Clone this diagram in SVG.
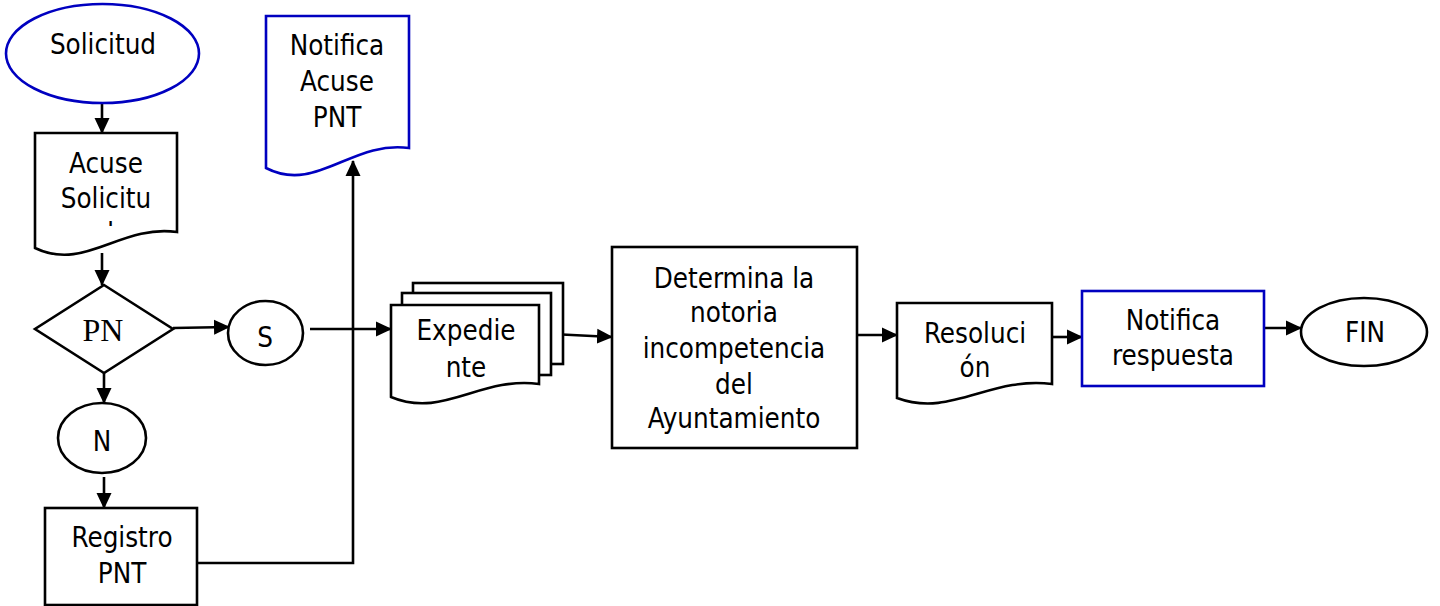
<svg xmlns="http://www.w3.org/2000/svg" width="1440" height="606" viewBox="0 0 1440 606">
<style>
.s{fill:#fff;stroke:#000;stroke-width:2.6}
.b{fill:#fff;stroke:#0000c0;stroke-width:2.6}
.t{font-family:"DejaVu Sans Condensed","DejaVu Sans",sans-serif;font-stretch:condensed;font-size:27.5px;fill:#000;text-anchor:middle}
.pn{font-family:"Liberation Serif","Times New Roman",serif;font-size:32px;fill:#000;text-anchor:middle}
.c{fill:none;stroke:#000;stroke-width:2.6}
</style>
<defs>
<marker id="ah" markerUnits="userSpaceOnUse" markerWidth="16" markerHeight="17" viewBox="0 0 16 17" refX="15" refY="8.5" orient="auto">
<path d="M0,1 L16,8.5 L0,16 Z" fill="#000"/>
</marker>
<clipPath id="cAcuse"><rect x="35" y="133" width="142" height="93"/></clipPath>
<clipPath id="cRes"><rect x="897" y="303" width="155" height="74"/></clipPath>
</defs>

<g id="connectors">
<line class="c" x1="102" y1="104" x2="102" y2="133" marker-end="url(#ah)"/>
<line class="c" x1="102" y1="253" x2="102" y2="285" marker-end="url(#ah)"/>
<line class="c" x1="173" y1="328" x2="229" y2="327" marker-end="url(#ah)"/>
<line class="c" x1="104" y1="373" x2="104" y2="403" marker-end="url(#ah)"/>
<line class="c" x1="104" y1="477" x2="104" y2="508" marker-end="url(#ah)"/>
<polyline class="c" points="197,563 353,563 353,161" marker-end="url(#ah)"/>
<line x1="194.5" y1="548" x2="194.5" y2="564" stroke="#000" stroke-width="3.5"/>
<line class="c" x1="310" y1="329" x2="391" y2="329" marker-end="url(#ah)"/>
<line class="c" x1="552" y1="334" x2="612" y2="337" marker-end="url(#ah)"/>
<line class="c" x1="853" y1="335" x2="897" y2="335" marker-end="url(#ah)"/>
<line class="c" x1="1052" y1="337" x2="1082" y2="337" marker-end="url(#ah)"/>
<line class="c" x1="1264" y1="328" x2="1301" y2="328" marker-end="url(#ah)"/>
</g>

<g id="solicitud">
<ellipse class="b" cx="102.5" cy="53.5" rx="96.5" ry="49.5"/>
<text class="t" x="103" y="54">Solicitud</text>
</g>

<g id="acuse-solicitud">
<path class="s" d="M35,133 H177 V232 C120,224 85,272 35,248 Z"/>
<text class="t" x="106" y="173">Acuse</text>
<text class="t" x="106" y="208">Solicitu</text>
<text class="t" x="106" y="243" clip-path="url(#cAcuse)">d</text>
</g>

<g id="pn">
<path class="s" d="M104,285 L173,329 L104,373 L35,329 Z"/>
<text class="pn" x="103" y="341">PN</text>
</g>

<g id="s">
<ellipse class="s" cx="265.5" cy="333" rx="37.5" ry="32"/>
<text class="t" x="265" y="347">S</text>
</g>

<g id="n">
<ellipse class="s" cx="102" cy="438" rx="44" ry="35"/>
<text class="t" x="102" y="451">N</text>
</g>

<g id="registro-pnt">
<rect class="s" x="45" y="508" width="152" height="97"/>
<text class="t" x="122" y="547">Registro</text>
<text class="t" x="122" y="583">PNT</text>
</g>

<g id="notifica-acuse-pnt">
<path class="b" d="M266,16 H409 V148 C352,140 316,194 266,168 Z"/>
<text class="t" x="337" y="55">Notifica</text>
<text class="t" x="337" y="91">Acuse</text>
<text class="t" x="337" y="127">PNT</text>
</g>

<g id="expediente">
<rect class="s" x="413" y="283" width="150" height="81"/>
<rect class="s" x="402" y="293" width="149" height="82"/>
<path class="s" d="M391,305 H539 V384 C480,376 443,419 391,397 Z"/>
<text class="t" x="466" y="340">Expedie</text>
<text class="t" x="466" y="377">nte</text>
</g>

<g id="determina">
<rect class="s" x="612" y="247" width="245" height="201"/>
<text class="t" x="734" y="288">Determina la</text>
<text class="t" x="734" y="322">notoria</text>
<text class="t" x="734" y="358">incompetencia</text>
<text class="t" x="734" y="394">del</text>
<text class="t" x="734" y="428">Ayuntamiento</text>
</g>

<g id="resolucion">
<path class="s" d="M897,303 H1052 V384 C990,376 951,418 897,398 Z"/>
<text class="t" x="975" y="343">Resoluci</text>
<text class="t" x="975" y="377" clip-path="url(#cRes)">ón</text>
</g>

<g id="notifica-respuesta">
<rect class="b" x="1082" y="291" width="182" height="95"/>
<text class="t" x="1173" y="330">Notifica</text>
<text class="t" x="1173" y="365">respuesta</text>
</g>

<g id="fin">
<ellipse class="s" cx="1364" cy="332" rx="63" ry="34"/>
<text class="t" x="1365" y="342">FIN</text>
</g>
</svg>
